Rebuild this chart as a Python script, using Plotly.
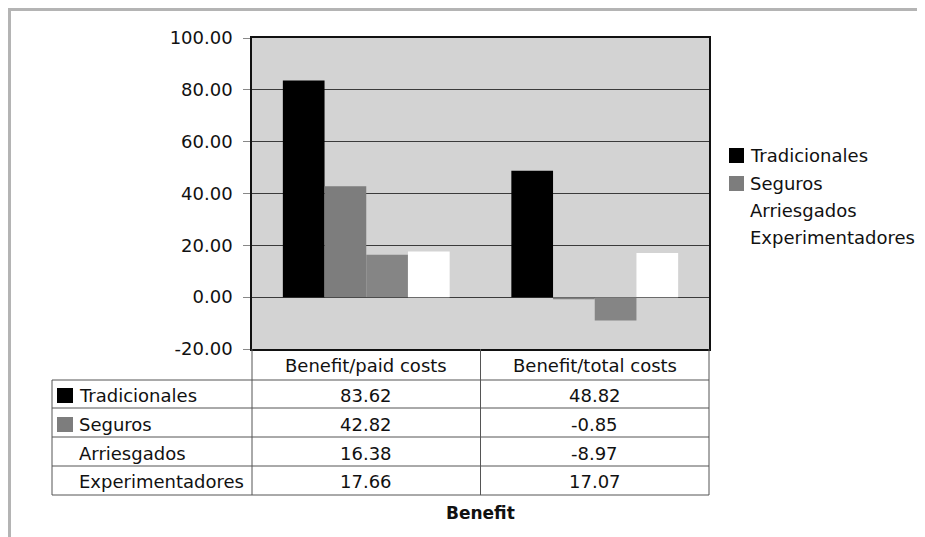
import plotly.graph_objects as go

categories = ["Benefit/paid costs", "Benefit/total costs"]
series_names = ["Tradicionales", "Seguros", "Arriesgados", "Experimentadores"]
tradicionales = [83.62, 48.82]
seguros = [42.82, -0.85]
arriesgados = [16.38, -8.97]
experimentadores = [17.66, 17.07]
y_ticks = [-20, 0, 20, 40, 60, 80, 100]
x_title = "Benefit"

series_values = [tradicionales, seguros, arriesgados, experimentadores]
bar_colors = ["#000000", "#7d7d7d", "#858585", "#ffffff"]
swatch_colors = ["#000000", "#7d7d7d", None, None]

OFF = 8  # page body margin
W, H = 925, 537
L, R, T, B = 252, 709, 38, 349
PW, PH = R - L, B - T

def px(x):
    return (x - L) / PW

def py(y):
    return (B - y) / PH

FONT = "DejaVu Sans"
FS = 18
TXT = "#111111"

fig = go.Figure()
for name, vals, col in zip(series_names, series_values, bar_colors):
    fig.add_trace(go.Bar(x=categories, y=vals, name=name, marker_color=col,
                         marker_line_width=0, showlegend=False))

shapes = []
annotations = []

# outer frame
shapes.append(dict(type="line", xref="paper", yref="paper", x0=px(8), x1=px(930),
                   y0=py(9.5), y1=py(9.5), line=dict(color="#b4b4b4", width=3)))
shapes.append(dict(type="line", xref="paper", yref="paper", x0=px(9.5), x1=px(9.5),
                   y0=py(8), y1=py(545), line=dict(color="#b4b4b4", width=3)))

# data table grid
gc = "#555555"
TL = 52
row_lines = [380, 408, 437, 466, 495]
for yl in row_lines:
    shapes.append(dict(type="line", xref="paper", yref="paper", x0=px(TL), x1=px(R),
                       y0=py(yl), y1=py(yl), line=dict(color=gc, width=1)))
for xl in [L, 480.5, R]:
    shapes.append(dict(type="line", xref="paper", yref="paper", x0=px(xl), x1=px(xl),
                       y0=py(B), y1=py(495), line=dict(color=gc, width=1)))
shapes.append(dict(type="line", xref="paper", yref="paper", x0=px(TL), x1=px(TL),
                   y0=py(380), y1=py(495), line=dict(color=gc, width=1)))

# header labels
for c in categories:
    annotations.append(dict(x=c, xref="x", y=py(365), yref="paper", text=c,
                            showarrow=False, font=dict(family=FONT, size=FS, color=TXT),
                            xanchor="center", yanchor="middle"))
row_centers = [395, 424, 453, 481]
for i, (name, vals) in enumerate(zip(series_names, series_values)):
    yc = row_centers[i]
    annotations.append(dict(x=px(77), xref="paper", y=py(yc), yref="paper", text=name,
                            showarrow=False, font=dict(family=FONT, size=FS, color=TXT),
                            xanchor="left", yanchor="middle"))
    for c, v in zip(categories, vals):
        annotations.append(dict(x=c, xref="x", y=py(yc), yref="paper", text=f"{v:.2f}",
                                showarrow=False, font=dict(family=FONT, size=FS, color=TXT),
                                xanchor="center", yanchor="middle"))
    if swatch_colors[i]:
        shapes.append(dict(type="rect", xref="paper", yref="paper", x0=px(57), x1=px(73),
                           y0=py(yc - 7), y1=py(yc + 8), fillcolor=swatch_colors[i],
                           line=dict(width=0)))

# legend
leg_centers = [155, 183, 210, 237]
for i, name in enumerate(series_names):
    yc = leg_centers[i]
    annotations.append(dict(x=px(748), xref="paper", y=py(yc), yref="paper", text=name,
                            showarrow=False, font=dict(family=FONT, size=FS, color=TXT),
                            xanchor="left", yanchor="middle"))
    if swatch_colors[i]:
        shapes.append(dict(type="rect", xref="paper", yref="paper", x0=px(729), x1=px(744),
                           y0=py(yc - 7), y1=py(yc + 8), fillcolor=swatch_colors[i],
                           line=dict(width=0)))

# axis title
annotations.append(dict(x=0.5, xref="paper", y=py(513), yref="paper", text=f"<b>{x_title}</b>",
                        showarrow=False, font=dict(family=FONT, size=17, color=TXT),
                        xanchor="center", yanchor="middle"))

fig.update_layout(
    width=W - OFF, height=H - OFF, autosize=False,
    margin=dict(l=L - OFF, r=W - R, t=T - OFF, b=H - B, pad=0),
    paper_bgcolor="white", plot_bgcolor="#d3d3d3",
    barmode="group", bargap=0.27, bargroupgap=0,
    showlegend=False,
    shapes=shapes, annotations=annotations,
    font=dict(family=FONT, size=FS, color=TXT),
)
fig.update_xaxes(showticklabels=False, showgrid=False, showline=True, mirror=True,
                 linecolor="#111", linewidth=1.5, ticks="")
fig.update_yaxes(range=[-20, 100], tickvals=y_ticks, ticktext=[f"{v:.2f}" for v in y_ticks],
                 showgrid=True, gridcolor="#3a3a3a", gridwidth=1,
                 zeroline=True, zerolinecolor="#3a3a3a", zerolinewidth=1,
                 showline=True, mirror=True, linecolor="#111", linewidth=1.5,
                 ticks="outside", ticklen=7, tickcolor="#888",
                 ticklabelstandoff=7,
                 tickfont=dict(family=FONT, size=FS, color=TXT))

fig.write_html("out.html")
